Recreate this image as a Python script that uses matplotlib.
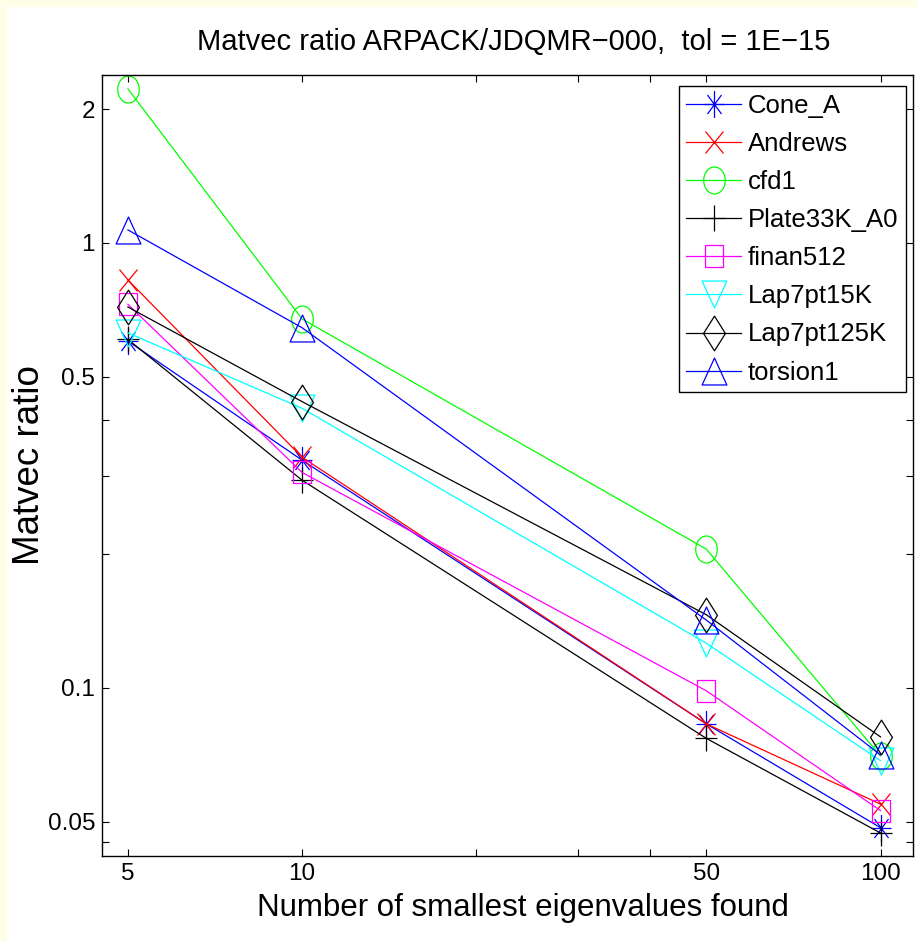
import numpy as np
import matplotlib
matplotlib.use("Agg")
import matplotlib.pyplot as plt
from matplotlib.path import Path
from matplotlib import font_manager

# ---------------- data ----------------
n_eigs = [5, 10, 50, 100]
series_names = ["Cone_A", "Andrews", "cfd1", "Plate33K_A0", "finan512",
                "Lap7pt15K", "Lap7pt125K", "torsion1"]
cone_a = [0.602, 0.325, 0.083, 0.0485]
andrews = [0.826, 0.330, 0.083, 0.0548]
cfd1 = [2.22, 0.675, 0.205, 0.0703]
plate33k = [0.607, 0.293, 0.077, 0.0472]
finan512 = [0.728, 0.305, 0.0985, 0.053]
lap7pt15k = [0.628, 0.425, 0.126, 0.0686]
lap7pt125k = [0.718, 0.440, 0.146, 0.0776]
torsion1 = [1.07, 0.645, 0.142, 0.0707]
series_values = [cone_a, andrews, cfd1, plate33k, finan512, lap7pt15k, lap7pt125k, torsion1]

xtick_vals = [5, 10, 20, 30, 40, 50, 100]
xtick_labels = ["5", "10", "", "", "", "50", "100"]
ytick_vals = [0.045, 0.05, 0.1, 0.2, 0.3, 0.4, 0.5, 1, 2]
ytick_labels = ["", "0.05", "0.1", "", "", "", "0.5", "1", "2"]

# ---------------- fonts ----------------
avail = {f.name for f in font_manager.fontManager.ttflist}
if "Liberation Sans Narrow" in avail:
    FONT = "Liberation Sans Narrow"
else:
    FONT = "Liberation Sans"
plt.rcParams["font.family"] = [FONT, "DejaVu Sans"]

# ---------------- custom (horizontally squeezed) markers ----------------
def ellipse(w, h, n=64):
    t = np.linspace(0, 2 * np.pi, n)
    return Path(np.column_stack([w / 2 * np.cos(t), h / 2 * np.sin(t)]), closed=True)

def poly(pts):
    pts = list(pts) + [pts[0]]
    return Path(pts, closed=True)

def segments(segs):
    verts, codes = [], []
    for a, b in segs:
        verts += [a, b]
        codes += [Path.MOVETO, Path.LINETO]
    return Path(verts, codes)

hw = 0.37
d = 0.7071
m_star = segments([((0, -0.5), (0, 0.5)), ((-hw, 0), (hw, 0)),
                   ((-hw * d, -0.5 * d), (hw * d, 0.5 * d)),
                   ((-hw * d, 0.5 * d), (hw * d, -0.5 * d))])
m_x = segments([((-0.41, -0.5), (0.41, 0.5)), ((-0.41, 0.5), (0.41, -0.5))])
m_plus = segments([((-0.41, 0), (0.41, 0)), ((0, -0.5), (0, 0.5))])
m_circle = ellipse(0.8, 1.0)
m_square = poly([(-0.41, -0.5), (0.41, -0.5), (0.41, 0.5), (-0.41, 0.5)])
m_tri_down = poly([(-0.46, 0.5), (0.46, 0.5), (0, -0.5)])
m_diamond = poly([(0, 0.5), (0.315, 0), (0, -0.5), (-0.315, 0)])
m_tri_up = poly([(-0.46, -0.5), (0.46, -0.5), (0, 0.5)])

styles = [
    ("#0000ff", m_star, 19.4),
    ("#ff0000", m_x, 15.8),
    ("#00ff00", m_circle, 19.4),
    ("#000000", m_plus, 19.4),
    ("#ff00ff", m_square, 15.8),
    ("#00ffff", m_tri_down, 19.4),
    ("#000000", m_diamond, 25.0),
    ("#0000ff", m_tri_up, 19.4),
]

# ---------------- figure ----------------
W, H = 918, 942
fig = plt.figure(figsize=(W / 100, H / 100), dpi=100)
fig.patch.set_facecolor("#fefee6")
# white page area (pale yellow strip at left and top)
fig.patches.append(plt.Rectangle((7 / W, 0), 1, 1 - 7 / H, transform=fig.transFigure,
                                 facecolor="white", edgecolor="none", zorder=-10))

ax_l, ax_r, ax_t, ax_b = 102, 913, 75, 856
ax = fig.add_axes([ax_l / W, 1 - ax_b / H, (ax_r - ax_l) / W, (ax_b - ax_t) / H])
ax.set_facecolor("white")

for name, vals, (col, mk, ms) in zip(series_names, series_values, styles):
    ax.plot(n_eigs, vals, color=col, lw=0.9, marker=mk, markersize=ms,
            markerfacecolor="none", markeredgecolor=col, markeredgewidth=0.9,
            label=name)

ax.set_xscale("log")
ax.set_yscale("log")
ax.set_xlim(4.51, 113.8)
ax.set_ylim(0.0419, 2.385)

ax.xaxis.set_minor_locator(matplotlib.ticker.NullLocator())
ax.yaxis.set_minor_locator(matplotlib.ticker.NullLocator())
ax.set_xticks(xtick_vals)
ax.set_xticklabels(xtick_labels)
ax.set_yticks(ytick_vals)
ax.set_yticklabels(ytick_labels)
ax.tick_params(axis="both", which="both", direction="in", length=5, width=0.8,
               top=True, right=True, labelsize=17.5, colors="black")
ax.tick_params(axis="x", pad=5)
ax.tick_params(axis="y", pad=5)

for sp in ax.spines.values():
    sp.set_linewidth(1.0)
    sp.set_color("black")

ax.set_title("Matvec ratio ARPACK/JDQMR\u2212000,  tol = 1E\u221215", fontsize=21, pad=18, x=0.508)
ax.set_xlabel("Number of smallest eigenvalues found", fontsize=22.5)
ax.xaxis.set_label_coords(0.519, -0.0666)
ax.xaxis.label.set_va("center")
ax.set_ylabel("Matvec ratio", fontsize=26.5)
ax.yaxis.set_label_coords(-0.068, 0.5)

leg = ax.legend(loc="upper right", bbox_to_anchor=(906 / W, 1 - 86 / H),
                bbox_transform=fig.transFigure, borderaxespad=0,
                fontsize=18.5, labelspacing=0.55, handlelength=2.14,
                handletextpad=0.25, borderpad=0.3, fancybox=False,
                framealpha=1, edgecolor="black")
leg.get_frame().set_linewidth(1.0)

fig.savefig("out.png", dpi=100, facecolor=fig.get_facecolor())
